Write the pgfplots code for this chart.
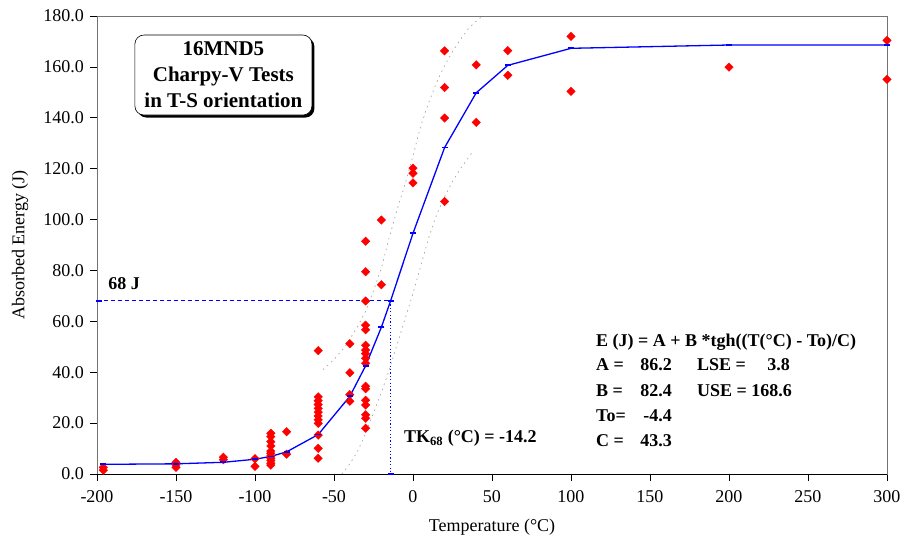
\documentclass[border=0pt]{standalone}
\usepackage{pgfplots}
\pgfplotsset{compat=1.18}
\usepackage{fontspec}
\setmainfont{Liberation Serif}
\usetikzlibrary{shadows}
\begin{document}
\fontsize{18}{21}\selectfont
\begin{tikzpicture}
\begin{axis}[
  scale only axis, width=790pt, height=458pt,
  xmin=-200, xmax=300, ymin=0, ymax=180,
  xtick={-200,-150,...,300}, ytick={0,20,...,180},
  /pgf/number format/assume math mode=true,
  y tick label style={/pgf/number format/fixed, /pgf/number format/fixed zerofill, /pgf/number format/precision=1, font=\fontsize{18}{21}\selectfont},
  x tick label style={font=\fontsize{18}{21}\selectfont, yshift=-3pt},
  tick align=outside, major tick length=7pt,
  tick style={black, line width=0.6pt},
  xtick pos=bottom, ytick pos=left,
  axis line style={black!55, line width=0.7pt},
  xlabel={Temperature (°C)}, ylabel={Absorbed Energy (J)},
  every axis x label/.style={at={(axis description cs:0.5,-0.1157)}, anchor=center, font=\fontsize{18}{21}\selectfont},
  every axis y label/.style={at={(axis description cs:-0.0975,0.5)}, rotate=90, anchor=center, font=\fontsize{18}{21}\selectfont},
  clip=false,
]
% confidence band (dotted grey)
\addplot[gray!70, line width=0.7pt, dash pattern=on 1.5pt off 4pt] coordinates {
 (-57,41) (-50,45) (-43,50) (-35,58) (-30,64) (-25,72) (-20,81) (-15,93) (-10,104) (-5,114) (0,125) (5,137) (10,146) (15,154) (20,160.5) (25,166) (30,170.8) (35,175) (40,178) (44,180)};
\addplot[gray!70, line width=0.7pt, dash pattern=on 1.5pt off 4pt] coordinates {
 (-45,0) (-40,4) (-35,9) (-30,16) (-25,24) (-20,32) (-15,41) (-10,51) (-5,61) (0,71) (5,82) (10,93) (15,102) (20,109) (25,115) (30,120) (37,126)};
% test data
\addplot[only marks, mark=square*, mark size=3pt, mark options={rotate=45, fill=red, draw=red}] table {
T E
-196 1.5
-196 2.6
-150 4.6
-150 3.6
-150 2.6
-120 6.6
-120 5.6
-100 6.0
-100 3.0
-90 16.0
-90 14.7
-90 12.7
-90 11.0
-90 9.0
-90 8.1
-90 7.1
-90 6.2
-90 5.3
-90 4.2
-90 3.5
-80 16.6
-80 7.8
-60 48.5
-60 30.3
-60 28.8
-60 27.3
-60 25.8
-60 24.3
-60 22.8
-60 21.3
-60 19.9
-60 15.3
-60 10.1
-60 6.2
-40 51.2
-40 39.8
-40 31.2
-40 28.6
-30 91.5
-30 79.5
-30 68.0
-30 58.5
-30 56.7
-30 50.6
-30 48.7
-30 47.3
-30 45.5
-30 43.5
-30 34.5
-30 33.5
-30 29.0
-30 27.1
-30 23.3
-30 21.9
-30 18.0
-20 99.8
-20 74.4
0 120.2
0 118.2
0 114.4
20 166.3
20 151.9
20 139.9
20 107.1
40 160.8
40 138.2
60 166.4
60 156.7
100 172.0
100 150.4
200 159.9
300 170.4
300 155.1
};
% fitted curve
\addplot[color=blue, line width=1.3pt, mark=-, mark size=3pt, mark options={line width=1.8pt}] coordinates {
 (-196,3.8) (-150,4.0) (-120,4.6) (-100,5.8) (-90,6.9) (-80,8.7) (-60,15.5) (-40,30.5) (-30,42.5) (-20,57.7) (-14.2,68) (0,94.6) (20,128.3) (40,149.8) (60,160.6) (100,167.3) (200,168.6) (300,168.6)};
% 68 J construction
\addplot[color=blue, line width=1pt, dash pattern=on 4pt off 3pt] coordinates {(-200,68) (-14.2,68)};
\addplot[color=blue, line width=1.1pt, dash pattern=on 1.2pt off 2.2pt] coordinates {(-14.2,68) (-14.2,0)};
\addplot[color=blue, only marks, mark=-, mark size=3pt, mark options={line width=1.8pt}] coordinates {(-14.2,0) (-199,68)};
\draw[black, line width=0.8pt] (rel axis cs:0,0) -- (rel axis cs:1,0);
% texts
\node[anchor=base west, font=\bfseries\fontsize{18}{21}\selectfont] at (axis cs:-196.8,72.7) {68 J};
\node[anchor=base west, font=\bfseries\fontsize{18}{21}\selectfont] at (axis cs:-9.5,12.2) {TK\textsubscript{68} (°C) = -14.2};
\node[draw=black, line width=0.6pt, fill=white, rounded corners=9pt, align=center,
      minimum width=177pt, minimum height=80pt, inner sep=2pt,
      drop shadow={shadow xshift=2.5pt, shadow yshift=-2.5pt, fill=black, opacity=1},
      font=\bfseries\fontsize{21}{26}\selectfont] at (axis cs:-120,156.8)
  {16MND5\\Charpy-V Tests\\in T-S orientation};
\begin{scope}[every node/.style={font=\bfseries\fontsize{18}{21}\selectfont, inner sep=0pt}]
\node[anchor=base west] at (axis cs:115.8,50.3) {E (J) = A + B *tgh((T(°C) - To)/C)};
\node[anchor=base west] at (axis cs:115.8,40.5) {A =};
\node[anchor=base east] at (axis cs:164,40.5) {86.2};
\node[anchor=base west] at (axis cs:179.7,40.5) {LSE =};
\node[anchor=base east] at (axis cs:238.6,40.5) {3.8};
\node[anchor=base west] at (axis cs:115.8,30.6) {B =};
\node[anchor=base east] at (axis cs:164,30.6) {82.4};
\node[anchor=base west] at (axis cs:179.7,30.6) {USE = 168.6};
\node[anchor=base west] at (axis cs:115.8,20.8) {To=};
\node[anchor=base east] at (axis cs:164,20.8) {-4.4};
\node[anchor=base west] at (axis cs:115.8,11.0) {C =};
\node[anchor=base east] at (axis cs:164,11.0) {43.3};
\end{scope}
\end{axis}
\pgfresetboundingbox
\useasboundingbox (-97pt,-75pt) rectangle (809pt,474pt);
\end{tikzpicture}
\end{document}
